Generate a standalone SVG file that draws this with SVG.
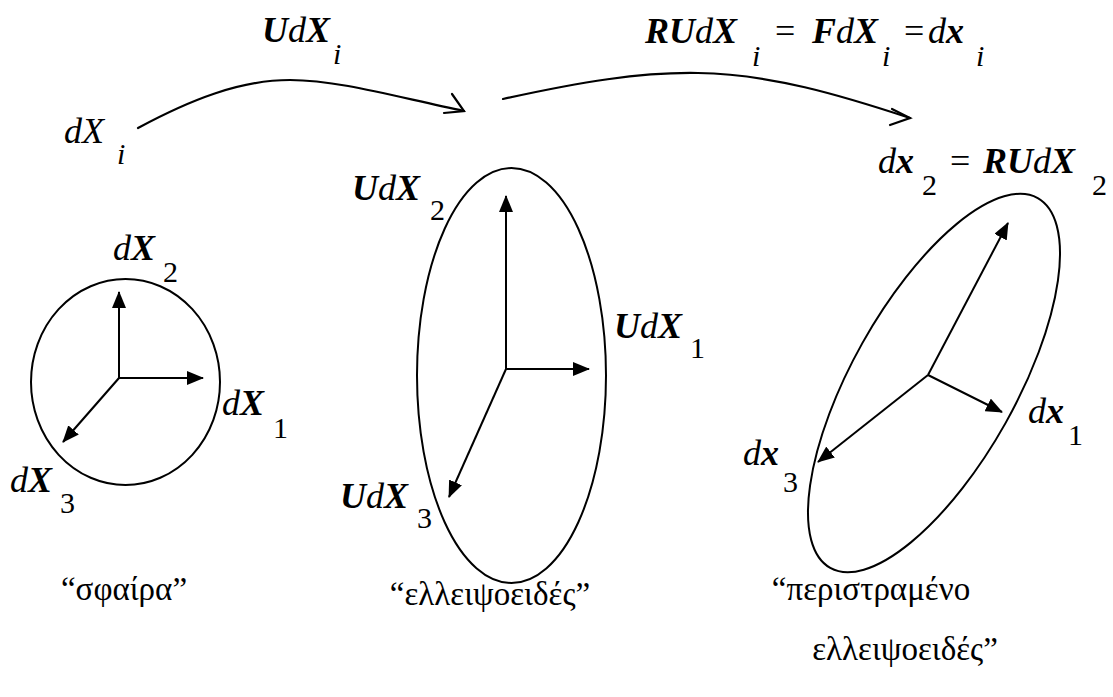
<svg xmlns="http://www.w3.org/2000/svg" width="1113" height="697" viewBox="0 0 1113 697">
<defs>
<style>
.bg{fill:#fff}
.sh{fill:none;stroke:#000;stroke-width:2}
.ax{fill:none;stroke:#000;stroke-width:2;marker-end:url(#ah)}
.cv{fill:none;stroke:#000;stroke-width:2.2;stroke-linecap:round}
.t{font-size:36px;fill:#000}
.it{font-style:italic}
.bi{font-style:italic;font-weight:bold}
.sub{font-size:30px}
.gr{font-size:33px;text-anchor:middle}
</style>
<marker id="ah" markerUnits="userSpaceOnUse" markerWidth="17" markerHeight="14" refX="16" refY="7" orient="auto">
<path d="M0,0 L17,7 L0,14 Z" fill="#000"/>
</marker>
</defs>
<rect class="bg" x="0" y="0" width="1113" height="697"/>

<g id="connectors">
<path class="cv" d="M138,128 C190,100 240,80 290,80 C340,80 400,98 464,111"/>
<path class="cv" d="M452,94 L464,111 L444,113"/>
<path class="cv" d="M503,99 C580,82 640,72 698,73 C770,74 840,95 910,118"/>
<path class="cv" d="M892,109 L910,118 L890,125"/>
</g>

<g id="label-top-left" font-family="Liberation Serif, Times New Roman, serif">
<text class="t" x="64" y="143"><tspan class="it">dX</tspan><tspan class="it sub" x="117" y="164">i</tspan></text>
</g>
<g id="label-top-U" font-family="Liberation Serif, Times New Roman, serif">
<text class="t" x="262" y="42"><tspan class="bi">U</tspan><tspan class="it">d</tspan><tspan class="bi">X</tspan><tspan class="it sub" x="333" y="64">i</tspan></text>
</g>
<g id="label-top-right" font-family="Liberation Serif, Times New Roman, serif">
<text class="t" x="645" y="43"><tspan class="bi">RU</tspan><tspan class="it">d</tspan><tspan class="bi">X</tspan><tspan class="it sub" x="752" y="66">i</tspan><tspan x="775" y="43">=</tspan><tspan class="bi" x="812">F</tspan><tspan class="it">d</tspan><tspan class="bi">X</tspan><tspan class="it sub" x="882" y="66">i</tspan><tspan x="904" y="43">=</tspan><tspan class="it" x="928">d</tspan><tspan class="bi">x</tspan><tspan class="it sub" x="976" y="66">i</tspan></text>
</g>

<g id="sphere" font-family="Liberation Serif, Times New Roman, serif">
<ellipse class="sh" cx="125.5" cy="382" rx="94.5" ry="103"/>
<line class="ax" x1="119" y1="378" x2="119" y2="292"/>
<line class="ax" x1="119" y1="378" x2="203" y2="378"/>
<line class="ax" x1="119" y1="378" x2="63" y2="442"/>
<text class="t" x="113" y="260"><tspan class="it">d</tspan><tspan class="bi">X</tspan><tspan class="sub" x="163" y="282">2</tspan></text>
<text class="t" x="222" y="415"><tspan class="it">d</tspan><tspan class="bi">X</tspan><tspan class="sub" x="273" y="438">1</tspan></text>
<text class="t" x="10" y="492"><tspan class="it">d</tspan><tspan class="bi">X</tspan><tspan class="sub" x="60" y="513">3</tspan></text>
<text class="t gr" x="124" y="600">“σφαίρα”</text>
</g>

<g id="ellipsoid" font-family="Liberation Serif, Times New Roman, serif">
<ellipse class="sh" cx="511.5" cy="375.5" rx="94.5" ry="207.5"/>
<line class="ax" x1="506" y1="369" x2="506" y2="196"/>
<line class="ax" x1="506" y1="369" x2="589" y2="369"/>
<line class="ax" x1="506" y1="369" x2="449" y2="497"/>
<text class="t" x="352" y="200"><tspan class="bi">U</tspan><tspan class="it">d</tspan><tspan class="bi">X</tspan><tspan class="sub" x="430" y="220">2</tspan></text>
<text class="t" x="614" y="338"><tspan class="bi">U</tspan><tspan class="it">d</tspan><tspan class="bi">X</tspan><tspan class="sub" x="690" y="358">1</tspan></text>
<text class="t" x="340" y="508"><tspan class="bi">U</tspan><tspan class="it">d</tspan><tspan class="bi">X</tspan><tspan class="sub" x="417" y="528">3</tspan></text>
<text class="t gr" x="490" y="605">“ελλειψοειδές”</text>
</g>

<g id="rotated-ellipsoid" font-family="Liberation Serif, Times New Roman, serif">
<ellipse class="sh" cx="934" cy="383" rx="82" ry="212" transform="rotate(29.3 934 383)"/>
<line class="ax" x1="928" y1="375" x2="1008" y2="223"/>
<line class="ax" x1="928" y1="375" x2="1002" y2="412"/>
<line class="ax" x1="928" y1="375" x2="818" y2="462"/>
<text class="t" x="878" y="173"><tspan class="it">d</tspan><tspan class="bi">x</tspan><tspan class="sub" x="922" y="195">2</tspan><tspan x="950" y="173">=</tspan><tspan class="bi" x="983">RU</tspan><tspan class="it">d</tspan><tspan class="bi">X</tspan><tspan class="sub" x="1092" y="195">2</tspan></text>
<text class="t" x="1028" y="423"><tspan class="it">d</tspan><tspan class="bi">x</tspan><tspan class="sub" x="1068" y="445">1</tspan></text>
<text class="t" x="743" y="465"><tspan class="it">d</tspan><tspan class="bi">x</tspan><tspan class="sub" x="783" y="492">3</tspan></text>
<text class="t gr" x="871" y="600">“περιστραμένο</text>
<text class="t gr" x="905" y="660">ελλειψοειδές”</text>
</g>
</svg>
